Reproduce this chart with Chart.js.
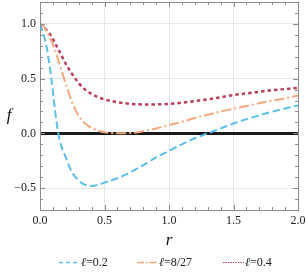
<!DOCTYPE html>
<html>
<head>
<meta charset="utf-8">
<script src="https://cdn.jsdelivr.net/npm/chart.js@4.4.1/dist/chart.umd.min.js"></script>
<style>
html,body{margin:0;padding:0;background:#fff;}
#wrap{width:307px;height:272px;position:relative;}
</style>
</head>
<body>
<div id="wrap"><canvas id="c" width="307" height="272"></canvas></div>
<script>
const rValues = [0,0.025,0.05,0.075,0.1,0.125,0.15,0.2,0.25,0.3,0.35,0.4,0.45,0.5,0.6,0.7,0.8,0.9,1.0,1.1,1.2,1.3,1.4,1.5,1.6,1.7,1.8,1.9,2.0];
const f_l02   = [1.0,0.91,0.80,0.61,0.38,0.13,-0.05,-0.22,-0.36,-0.43,-0.47,-0.48,-0.47,-0.45,-0.41,-0.355,-0.29,-0.22,-0.16,-0.10,-0.045,0.0,0.045,0.09,0.13,0.165,0.198,0.228,0.255];
const f_l827  = [1.0,0.98,0.94,0.88,0.81,0.73,0.64,0.45,0.28,0.16,0.09,0.05,0.025,0.01,0.0,0.003,0.02,0.045,0.075,0.105,0.14,0.17,0.20,0.225,0.25,0.275,0.30,0.32,0.345];
const f_l04   = [1.0,0.975,0.945,0.91,0.86,0.805,0.75,0.635,0.54,0.46,0.40,0.36,0.33,0.31,0.285,0.27,0.264,0.265,0.27,0.28,0.295,0.31,0.33,0.35,0.365,0.38,0.395,0.405,0.415];
const seriesLabels = ['ℓ=0.2','ℓ=8/27','ℓ=0.4'];
const xTicks = [0,0.5,1.0,1.5,2.0];
const yTicks = [-0.5,0,0.5,1.0];
const xRange = [0,2];
const yRange = [-0.7,1.2];

const FONT = "'Liberation Serif', 'Times New Roman', serif";
const toPts = arr => arr.map((v,i)=>({x:rValues[i], y:v}));
const fmt = v => (v < 0 ? '\u2212' : '') + Math.abs(v).toFixed(1);
const legendX = [59, 137, 223];

const frame = {
  id:'frame',
  afterDraw(chart){
    const {ctx, chartArea:a, scales:{x,y}} = chart;
    ctx.save();
    ctx.strokeStyle = '#8c8c8c';
    ctx.lineWidth = 1;
    ctx.beginPath();
    for (let k=0;k<=20;k++){
      const px = Math.round(x.getPixelForValue(k/10))+0.5;
      const len = (k%5===0)?5:3;
      ctx.moveTo(px,a.bottom); ctx.lineTo(px,a.bottom-len);
      ctx.moveTo(px,a.top); ctx.lineTo(px,a.top+len);
    }
    for (let k=-7;k<=12;k++){
      const py = Math.round(y.getPixelForValue(k/10))+0.5;
      const len = (k%5===0)?5:3;
      ctx.moveTo(a.left,py); ctx.lineTo(a.left+len,py);
      ctx.moveTo(a.right,py); ctx.lineTo(a.right-len,py);
    }
    ctx.stroke();
    ctx.strokeRect(Math.round(a.left)+0.5, Math.round(a.top)+0.5, Math.round(a.right-a.left), Math.round(a.bottom-a.top));
    // axis titles
    ctx.fillStyle = '#111';
    ctx.font = 'italic 17px ' + FONT;
    ctx.textAlign = 'center';
    ctx.textBaseline = 'alphabetic';
    ctx.fillText('f', 9, 120);
    ctx.fillText('r', (a.left+a.right)/2, a.bottom + 35);
    // legend
    const ly = 262;
    chart.data.datasets.forEach((ds,i)=>{
      const x0 = legendX[i];
      ctx.save();
      ctx.strokeStyle = ds.borderColor;
      ctx.lineWidth = ds.legendWidth;
      ctx.setLineDash(ds.legendDash);
      ctx.beginPath();
      ctx.moveTo(x0, ly+0.5); ctx.lineTo(x0+21, ly+0.5);
      ctx.stroke();
      ctx.restore();
      const lab = ds.label;
      ctx.textAlign = 'left';
      ctx.textBaseline = 'middle';
      ctx.fillStyle = '#222';
      ctx.font = 'italic 12px ' + FONT;
      const first = lab.charAt(0);
      ctx.fillText(first, x0+22, ly+1);
      const w = ctx.measureText(first).width;
      ctx.font = '12px ' + FONT;
      ctx.fillText(lab.slice(1), x0+22+w, ly+1);
    });
    ctx.restore();
  }
};

new Chart(document.getElementById('c'), {
  type:'line',
  data:{
    datasets:[
      {label:seriesLabels[0], data:toPts(f_l02), borderColor:'rgb(92,190,234)', borderWidth:2, borderDash:[7.5,3.5], legendDash:[4,3], legendWidth:1.5, pointRadius:0, tension:0.4, cubicInterpolationMode:'monotone', fill:false},
      {label:seriesLabels[1], data:toPts(f_l827), borderColor:'rgb(245,168,125)', borderWidth:2, borderDash:[10,3,2,3], legendDash:[7,2,1.5,2], legendWidth:1.5, pointRadius:0, tension:0.4, cubicInterpolationMode:'monotone', fill:false},
      {label:seriesLabels[2], data:toPts(f_l04), borderColor:'rgb(184,64,88)', borderWidth:2.5, borderDash:[3.5,3], legendDash:[1.5,1], legendWidth:1, pointRadius:0, tension:0.4, cubicInterpolationMode:'monotone', fill:false}
    ]
  },
  options:{
    responsive:false,
    animation:false,
    devicePixelRatio:1,
    layout:{padding:{left:0,right:9,top:2,bottom:22}},
    scales:{
      x:{
        type:'linear', min:xRange[0], max:xRange[1],
        afterBuildTicks:s=>{s.ticks = xTicks.map(v=>({value:v}));},
        afterFit:s=>{s.height = 40; s.paddingLeft = 0; s.paddingRight = 0;},
        ticks:{callback:v=>fmt(v), font:{family:FONT,size:12}, color:'#222', padding:4, maxRotation:0, autoSkip:false},
        grid:{drawTicks:false, color:c=> (c.tick && (c.tick.value===0||c.tick.value===2)) ? 'rgba(0,0,0,0)' : '#e6e6e6', lineWidth:1},
        border:{display:false}
      },
      y:{
        type:'linear', min:yRange[0], max:yRange[1],
        afterBuildTicks:s=>{s.ticks = yTicks.map(v=>({value:v}));},
        afterFit:s=>{s.width = 40; s.paddingTop = 0; s.paddingBottom = 0;},
        ticks:{callback:v=>fmt(v), font:{family:FONT,size:12}, color:'#222', padding:4, autoSkip:false},
        grid:{drawTicks:false, color:c=> (c.tick && c.tick.value===0) ? '#1a1a1a' : '#e6e6e6', lineWidth:c=> (c.tick && c.tick.value===0) ? 3 : 1},
        border:{display:false}
      }
    },
    plugins:{
      legend:{display:false},
      tooltip:{enabled:false}
    }
  },
  plugins:[frame]
});
</script>
</body>
</html>
